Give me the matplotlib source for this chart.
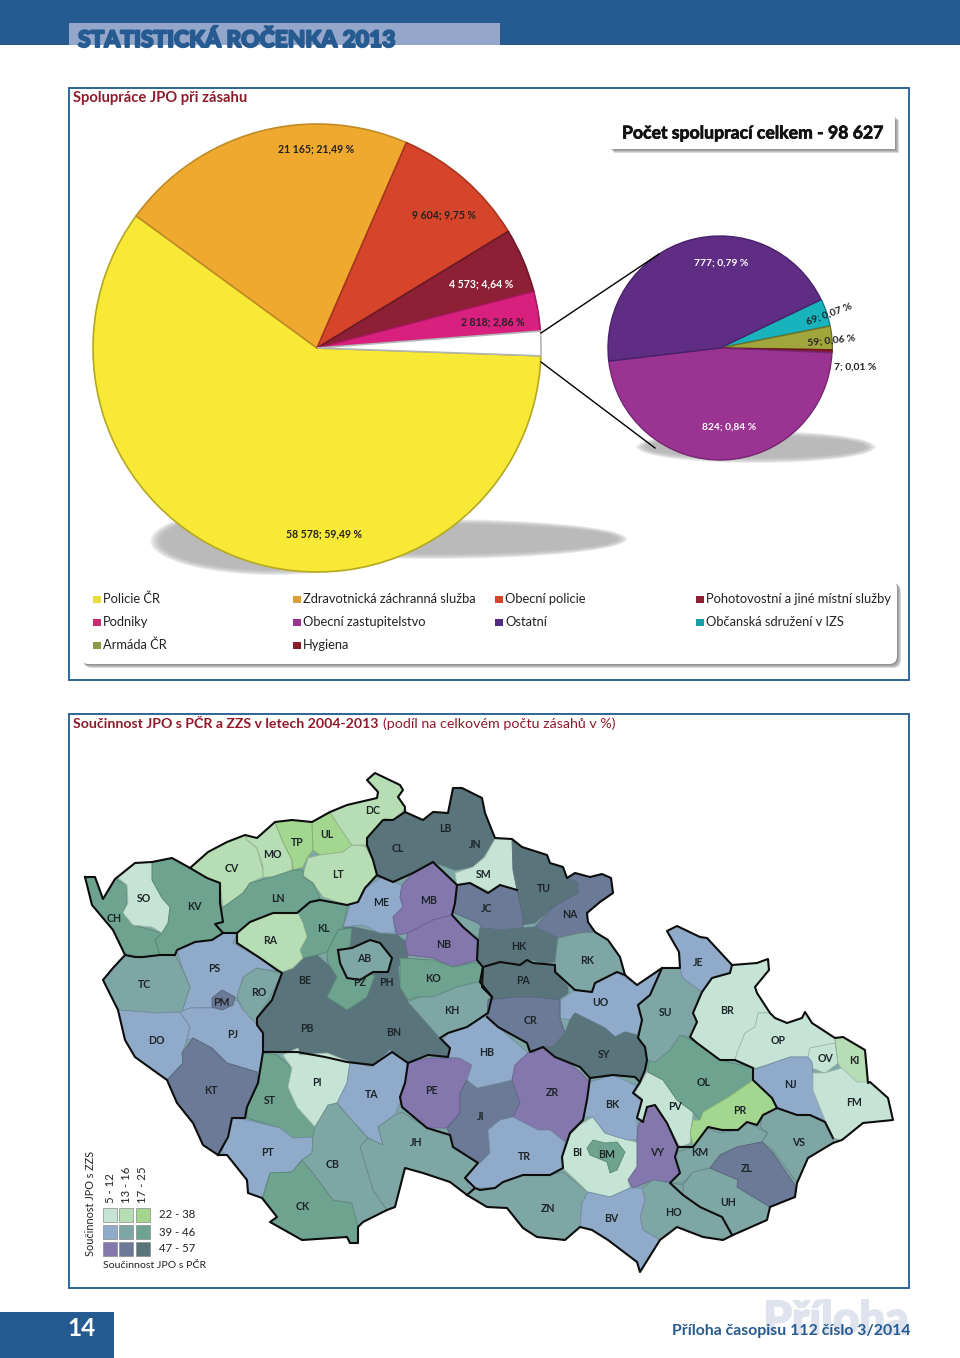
import matplotlib
matplotlib.use("Agg")
import matplotlib.pyplot as plt
import matplotlib.patheffects as pe
from matplotlib.colors import to_rgb
from matplotlib.patches import Ellipse, FancyBboxPatch, Polygon, Rectangle

plt.rcParams["font.family"] = ["Lato", "DejaVu Sans"]

BLUE = "#265b91"
RED_TITLE = "#8f1a2a"
TEXT = "#222222"

# main pie, share values
main_values = [58578, 21165, 9604, 4573, 2818, 1736]
main_colors = ["#f7e935", "#efa92f", "#d6452a", "#8e2035", "#d9207f", "#ffffff"]
main_edges = ["#b5a820", "#c08a25", "#a83520", "#6b1828", "#a8185f", "#b5b5b5"]
main_labels = ["58 578; 59,49 %", "21 165; 21,49 %", "9 604; 9,75 %", "4 573; 4,64 %", "2 818; 2,86 %"]
main_label_xy = [(324, 534), (316, 149), (444, 215), (481, 284), (493, 322)]
main_label_colors = [TEXT, TEXT, TEXT, "white", TEXT]

# detail pie, clockwise from the first split-off slice
detail_values = [69, 59, 7, 824, 777]
detail_colors = ["#18b3bd", "#a0a53c", "#8a1f2c", "#9a3391", "#5f2d84"]
detail_edges = ["#0f7f88", "#6e7228", "#6b1520", "#742670", "#48206a"]
detail_explode = [0.27, 0.33, 0.2, 0, 0]
detail_labels = ["69; 0,07 %", "59; 0,06 %", "7; 0,01 %", "824; 0,84 %", "777; 0,79 %"]
detail_label_xy = [(829, 314), (831, 341), (855, 367), (729, 427), (721, 263)]
detail_label_rot = [20, 6, 0, 0, 0]
detail_label_colors = [TEXT, TEXT, TEXT, "white", "white"]

legend_names = [
    "Policie ČR", "Zdravotnická záchranná služba", "Obecní policie", "Pohotovostní a jiné místní služby",
    "Podniky", "Obecní zastupitelstvo", "Ostatní", "Občanská sdružení v IZS",
    "Armáda ČR", "Hygiena",
]
legend_colors = [
    "#e8dc3a", "#dca032", "#d6452a", "#8e2035",
    "#c92a70", "#9a3391", "#4f2a80", "#18a0aa",
    "#8a9a45", "#8a1f2c",
]

# bivariate classes of the map, rows = JPO s PČR, columns = JPO s ZZS
class_rows = ["22 - 38", "39 - 46", "47 - 57"]
class_cols = ["5 - 12", "13 - 16", "17 - 25"]
class_colors = [
    ["#c6e4d6", "#b6ddb4", "#a3d68e"],
    ["#8fabc9", "#7ea6a4", "#6ea48f"],
    ["#8377ad", "#6b7a96", "#5a747b"],
]

# district -> (row, column) class
district_class = {
    "SM": (0, 0), "SO": (0, 0), "PI": (0, 0), "PV": (0, 0), "BI": (0, 0), "BR": (0, 0), "OP": (0, 0), "OV": (0, 0), "FM": (0, 0),
    "CV": (0, 1), "MO": (0, 1), "DC": (0, 1), "LT": (0, 1), "RA": (0, 1), "KI": (0, 1),
    "TP": (0, 2), "UL": (0, 2), "PR": (0, 2),
    "PS": (1, 0), "PJ": (1, 0), "DO": (1, 0), "ME": (1, 0), "HB": (1, 0), "TA": (1, 0), "PT": (1, 0), "UO": (1, 0), "JE": (1, 0),
    "BK": (1, 0), "TR": (1, 0), "BV": (1, 0), "NJ": (1, 0),
    "TC": (1, 1), "RO": (1, 1), "AB": (1, 1), "KH": (1, 1), "RK": (1, 1), "SU": (1, 1), "JH": (1, 1), "CB": (1, 1), "ZN": (1, 1),
    "HO": (1, 1), "UH": (1, 1), "KM": (1, 1), "VS": (1, 1),
    "CH": (1, 2), "KV": (1, 2), "LN": (1, 2), "KL": (1, 2), "KO": (1, 2), "BM": (1, 2), "OL": (1, 2), "CK": (1, 2), "ST": (1, 2), "PZ": (1, 2),
    "MB": (2, 0), "NB": (2, 0), "PE": (2, 0), "ZR": (2, 0), "VY": (2, 0),
    "PM": (2, 1), "KT": (2, 1), "JC": (2, 1), "NA": (2, 1), "CR": (2, 1), "JI": (2, 1), "ZL": (2, 1),
    "CL": (2, 2), "LB": (2, 2), "JN": (2, 2), "TU": (2, 2), "HK": (2, 2), "PA": (2, 2), "SY": (2, 2), "BE": (2, 2), "PB": (2, 2), "BN": (2, 2), "PH": (2, 2),
}

# outlines traced from the page, in page pixels; later ones lie on top
district_shape = {
    "PH": [(345, 925), (380, 933), (397, 935), (408, 943), (408, 957), (398, 967), (400, 987), (408, 1002), (380, 1012), (350, 1012), (327, 960)],
    "BE": [(282, 972), (293, 968), (303, 958), (317, 955), (328, 965), (337, 977), (330, 1000), (300, 1010), (272, 1000)],
    "PB": [(272, 1000), (325, 995), (347, 1005), (372, 1005), (372, 1062), (347, 1062), (325, 1057), (297, 1052), (263, 1052), (263, 1033), (257, 1025), (257, 1018)],
    "BN": [(347, 1005), (380, 985), (400, 987), (408, 1002), (440, 1038), (450, 1048), (448, 1057), (428, 1055), (408, 1063), (392, 1052), (373, 1065), (347, 1062)],
    "PZ": [(327, 952), (338, 930), (352, 928), (350, 945), (345, 975), (375, 975), (367, 997), (347, 1010), (327, 997), (337, 977), (328, 963)],
    "AB": [(338, 950), (352, 948), (370, 940), (380, 943), (392, 958), (388, 972), (373, 972), (360, 980), (347, 978), (340, 963)],
    "CH": [(85, 877), (95, 877), (103, 899), (115, 879), (127, 885), (127, 903), (123, 913), (133, 925), (162, 933), (155, 940), (160, 955), (143, 957), (135, 956), (125, 953), (113, 930), (92, 905)],
    "SO": [(118, 878), (135, 863), (152, 862), (152, 880), (162, 898), (170, 907), (168, 923), (162, 933), (152, 927), (133, 925), (123, 913), (128, 903), (127, 885)],
    "KV": [(152, 863), (172, 858), (190, 868), (207, 878), (220, 883), (220, 903), (223, 922), (215, 924), (223, 933), (212, 940), (195, 942), (177, 950), (175, 955), (160, 955), (155, 940), (162, 933), (168, 923), (170, 907), (162, 898), (152, 880)],
    "CV": [(190, 868), (208, 852), (227, 842), (245, 835), (247, 840), (257, 848), (263, 870), (263, 877), (250, 883), (243, 893), (223, 908), (220, 883), (207, 878)],
    "MO": [(245, 835), (257, 838), (275, 822), (282, 840), (292, 860), (292, 878), (272, 877), (263, 877), (263, 867), (257, 848), (247, 840)],
    "TP": [(275, 822), (292, 820), (312, 822), (313, 850), (307, 858), (303, 867), (293, 870), (292, 860), (282, 840)],
    "UL": [(312, 822), (330, 812), (338, 825), (352, 845), (343, 852), (320, 855), (313, 850)],
    "DC": [(330, 812), (347, 805), (377, 798), (378, 792), (367, 780), (375, 773), (400, 785), (403, 790), (398, 797), (405, 807), (402, 812), (393, 820), (385, 818), (377, 830), (367, 845), (352, 845), (338, 825)],
    "LT": [(352, 845), (365, 846), (373, 860), (377, 875), (365, 888), (358, 902), (347, 905), (323, 897), (313, 883), (303, 875), (308, 858), (320, 855), (343, 852)],
    "LN": [(293, 870), (303, 870), (303, 877), (313, 883), (320, 898), (310, 902), (297, 913), (273, 913), (250, 922), (237, 933), (223, 933), (215, 924), (223, 922), (222, 908), (243, 893), (250, 883), (272, 877)],
    "CL": [(367, 845), (367, 838), (383, 820), (393, 820), (405, 812), (423, 820), (433, 812), (433, 862), (413, 873), (393, 882), (377, 877), (375, 863)],
    "LB": [(433, 812), (448, 813), (453, 788), (462, 788), (482, 798), (485, 813), (465, 840), (455, 870), (433, 862)],
    "JN": [(485, 813), (495, 838), (483, 857), (473, 867), (455, 870), (465, 840)],
    "SM": [(455, 873), (473, 867), (485, 857), (495, 839), (512, 839), (513, 870), (517, 890), (500, 885), (492, 893), (480, 887), (470, 883), (457, 885)],
    "ME": [(363, 890), (380, 878), (402, 885), (400, 897), (403, 907), (393, 917), (395, 933), (380, 933), (363, 925), (343, 927), (350, 905), (358, 902)],
    "MB": [(402, 885), (413, 873), (433, 863), (457, 885), (455, 903), (452, 915), (433, 920), (408, 933), (397, 935), (393, 917), (403, 907), (400, 897)],
    "NB": [(408, 933), (433, 920), (452, 915), (463, 927), (478, 940), (477, 960), (453, 967), (433, 958), (408, 955), (405, 943)],
    "KL": [(298, 913), (310, 903), (320, 900), (348, 905), (343, 927), (338, 930), (327, 952), (317, 955), (303, 958), (300, 950), (307, 937), (303, 923)],
    "RA": [(237, 933), (250, 922), (272, 913), (298, 913), (303, 923), (307, 937), (300, 950), (303, 958), (293, 968), (282, 972), (275, 967), (260, 958), (237, 943)],
    "KO": [(400, 958), (433, 960), (453, 967), (477, 962), (483, 967), (480, 982), (457, 987), (433, 997), (417, 997), (408, 1000), (400, 987)],
    "KH": [(408, 1002), (420, 997), (433, 997), (457, 987), (478, 982), (492, 997), (488, 1013), (467, 1027), (448, 1033), (440, 1038)],
    "PS": [(177, 950), (195, 942), (212, 940), (223, 933), (237, 933), (233, 943), (260, 958), (277, 970), (257, 970), (245, 980), (238, 997), (217, 1007), (190, 1008), (180, 1012), (190, 987), (183, 970)],
    "RO": [(243, 977), (257, 968), (282, 973), (270, 997), (257, 1018), (257, 1025), (243, 1010), (237, 997)],
    "TC": [(113, 968), (125, 955), (140, 958), (160, 955), (175, 955), (183, 970), (190, 987), (182, 1012), (157, 1013), (118, 1010), (103, 980)],
    "DO": [(118, 1010), (157, 1013), (180, 1012), (190, 1027), (187, 1040), (182, 1053), (183, 1063), (167, 1080), (153, 1070), (135, 1057), (125, 1040)],
    "PJ": [(180, 1012), (190, 1008), (217, 1008), (237, 1000), (243, 1010), (257, 1025), (263, 1033), (263, 1052), (262, 1070), (257, 1072), (227, 1063), (212, 1048), (193, 1038), (187, 1040), (190, 1027)],
    "PM": [(212, 998), (222, 990), (235, 997), (233, 1005), (222, 1010), (212, 1007)],
    "KT": [(167, 1080), (183, 1063), (182, 1053), (193, 1038), (212, 1048), (227, 1063), (257, 1072), (258, 1083), (247, 1107), (245, 1118), (232, 1118), (228, 1137), (218, 1155), (203, 1145), (193, 1123), (177, 1103)],
    "ST": [(263, 1053), (277, 1055), (292, 1068), (288, 1087), (297, 1107), (315, 1127), (313, 1137), (293, 1138), (280, 1128), (247, 1118), (247, 1107), (258, 1083)],
    "PI": [(283, 1055), (298, 1048), (300, 1055), (327, 1053), (350, 1062), (347, 1083), (337, 1103), (327, 1112), (315, 1127), (297, 1107), (288, 1087), (292, 1068)],
    "TA": [(350, 1062), (372, 1067), (390, 1050), (407, 1063), (405, 1083), (400, 1103), (395, 1115), (378, 1127), (383, 1145), (368, 1138), (347, 1115), (337, 1103), (347, 1083)],
    "PT": [(232, 1118), (247, 1120), (280, 1128), (293, 1138), (313, 1137), (312, 1153), (302, 1160), (292, 1172), (270, 1173), (262, 1198), (248, 1193), (247, 1180), (227, 1155), (222, 1152)],
    "CK": [(302, 1160), (313, 1173), (333, 1200), (352, 1203), (358, 1227), (358, 1243), (350, 1243), (347, 1237), (302, 1240), (270, 1222), (277, 1217), (263, 1198), (270, 1173), (292, 1172)],
    "CB": [(328, 1105), (337, 1103), (347, 1115), (368, 1138), (360, 1147), (365, 1163), (373, 1190), (387, 1210), (363, 1222), (358, 1227), (352, 1203), (333, 1200), (313, 1173), (302, 1160), (312, 1153), (313, 1137), (315, 1127)],
    "JH": [(360, 1147), (368, 1138), (383, 1145), (378, 1127), (395, 1115), (402, 1112), (427, 1128), (450, 1135), (453, 1147), (478, 1163), (465, 1178), (475, 1188), (467, 1195), (450, 1182), (423, 1173), (405, 1168), (395, 1207), (387, 1210), (373, 1190), (365, 1163)],
    "PE": [(408, 1063), (428, 1058), (460, 1058), (472, 1065), (467, 1080), (460, 1093), (460, 1113), (447, 1128), (427, 1128), (402, 1107), (400, 1097), (405, 1083)],
    "JI": [(467, 1080), (477, 1088), (500, 1083), (512, 1080), (520, 1103), (513, 1117), (500, 1120), (488, 1130), (490, 1153), (480, 1163), (453, 1147), (450, 1135), (447, 1128), (460, 1113), (460, 1093)],
    "HB": [(448, 1033), (467, 1027), (488, 1013), (498, 1027), (527, 1052), (528, 1055), (513, 1077), (512, 1080), (500, 1083), (477, 1088), (467, 1080), (472, 1065), (460, 1058), (448, 1057), (450, 1048), (443, 1040)],
    "ZR": [(512, 1080), (515, 1065), (528, 1053), (543, 1048), (555, 1053), (580, 1072), (590, 1082), (587, 1100), (583, 1120), (570, 1133), (565, 1142), (550, 1130), (538, 1130), (513, 1117), (520, 1103)],
    "TR": [(480, 1163), (490, 1153), (488, 1130), (500, 1120), (513, 1117), (538, 1130), (550, 1130), (565, 1142), (562, 1157), (563, 1168), (550, 1175), (523, 1175), (503, 1182), (495, 1188), (480, 1190), (470, 1188), (465, 1178), (478, 1163)],
    "ZN": [(467, 1195), (475, 1188), (495, 1188), (503, 1182), (523, 1175), (550, 1175), (563, 1172), (588, 1192), (582, 1203), (580, 1227), (565, 1240), (537, 1237), (523, 1228), (507, 1208), (487, 1207)],
    "BI": [(563, 1168), (562, 1157), (568, 1137), (580, 1125), (593, 1117), (605, 1133), (623, 1138), (638, 1143), (637, 1167), (628, 1180), (630, 1188), (610, 1197), (588, 1192)],
    "BM": [(587, 1148), (593, 1140), (605, 1143), (617, 1142), (625, 1152), (617, 1170), (610, 1173), (607, 1162), (590, 1155)],
    "BK": [(590, 1082), (613, 1075), (635, 1085), (642, 1098), (637, 1118), (637, 1140), (628, 1140), (617, 1137), (605, 1133), (593, 1117), (583, 1117), (587, 1100)],
    "VY": [(638, 1127), (647, 1107), (655, 1105), (667, 1123), (678, 1147), (675, 1157), (680, 1173), (670, 1182), (653, 1180), (633, 1188), (628, 1180), (637, 1167), (637, 1140)],
    "PV": [(635, 1093), (647, 1072), (663, 1080), (677, 1100), (693, 1112), (690, 1143), (680, 1147), (667, 1123), (655, 1105), (647, 1107), (645, 1120), (637, 1118), (642, 1098)],
    "OL": [(648, 1072), (648, 1063), (680, 1035), (697, 1043), (720, 1060), (753, 1068), (753, 1080), (727, 1100), (703, 1112), (700, 1120), (693, 1112), (677, 1100), (663, 1080)],
    "PR": [(700, 1120), (703, 1112), (727, 1098), (753, 1080), (772, 1098), (777, 1108), (763, 1115), (757, 1125), (747, 1122), (738, 1130), (722, 1130), (708, 1127), (700, 1140), (693, 1145), (690, 1133), (693, 1120)],
    "SU": [(638, 1005), (650, 995), (662, 968), (680, 968), (683, 978), (702, 992), (693, 1013), (697, 1022), (690, 1037), (680, 1035), (670, 1050), (655, 1062), (647, 1060), (645, 1047), (638, 1038), (642, 1020)],
    "JE": [(667, 931), (677, 926), (700, 937), (707, 938), (732, 965), (730, 973), (712, 978), (702, 992), (683, 978), (680, 968), (679, 952)],
    "BR": [(732, 965), (757, 963), (768, 959), (769, 970), (755, 987), (757, 993), (770, 1013), (758, 1013), (755, 1027), (745, 1033), (737, 1053), (735, 1060), (720, 1060), (697, 1043), (690, 1035), (697, 1022), (693, 1013), (702, 992), (712, 978), (730, 973)],
    "OP": [(770, 1013), (775, 1018), (787, 1023), (802, 1018), (805, 1012), (812, 1023), (835, 1038), (835, 1043), (810, 1048), (808, 1057), (790, 1057), (767, 1065), (755, 1068), (735, 1060), (737, 1053), (745, 1033), (755, 1027), (758, 1013)],
    "OV": [(810, 1048), (835, 1043), (838, 1063), (825, 1073), (812, 1068), (808, 1057)],
    "KI": [(835, 1038), (843, 1037), (865, 1050), (868, 1083), (857, 1082), (842, 1070), (838, 1063)],
    "NJ": [(753, 1070), (767, 1065), (790, 1057), (808, 1057), (812, 1062), (813, 1073), (813, 1090), (825, 1120), (810, 1115), (797, 1115), (777, 1108), (772, 1098), (753, 1080)],
    "FM": [(813, 1073), (825, 1073), (842, 1068), (857, 1082), (870, 1082), (888, 1098), (893, 1120), (863, 1123), (842, 1140), (833, 1138), (825, 1120), (813, 1090)],
    "VS": [(763, 1115), (777, 1108), (797, 1115), (810, 1115), (825, 1122), (833, 1138), (833, 1143), (808, 1158), (797, 1183), (773, 1150), (762, 1142), (768, 1133), (760, 1127)],
    "KM": [(678, 1152), (693, 1147), (707, 1128), (720, 1133), (738, 1130), (747, 1122), (757, 1127), (767, 1133), (762, 1142), (737, 1147), (720, 1155), (710, 1168), (693, 1172), (683, 1183), (670, 1183), (680, 1173), (675, 1157)],
    "UH": [(683, 1185), (693, 1172), (710, 1168), (738, 1180), (737, 1187), (770, 1207), (767, 1220), (733, 1235), (723, 1217), (700, 1207), (683, 1195)],
    "ZL": [(710, 1168), (720, 1155), (737, 1147), (762, 1142), (773, 1153), (795, 1185), (795, 1197), (770, 1207), (737, 1187), (738, 1180)],
    "HO": [(642, 1188), (653, 1180), (670, 1183), (683, 1185), (683, 1195), (700, 1207), (722, 1217), (732, 1235), (723, 1240), (703, 1237), (677, 1227), (660, 1240), (643, 1230), (640, 1217), (645, 1200)],
    "BV": [(588, 1192), (610, 1197), (630, 1188), (642, 1188), (645, 1200), (640, 1217), (643, 1230), (660, 1240), (640, 1272), (637, 1262), (608, 1240), (592, 1230), (580, 1227), (582, 1203)],
    "TU": [(512, 839), (522, 847), (547, 855), (550, 863), (563, 867), (567, 877), (577, 882), (578, 893), (553, 907), (535, 923), (520, 925), (523, 917), (517, 890), (513, 870)],
    "NA": [(567, 878), (575, 873), (590, 877), (602, 874), (611, 878), (613, 893), (600, 902), (587, 913), (588, 922), (595, 932), (580, 933), (558, 938), (535, 927), (553, 907), (578, 893), (578, 883)],
    "JC": [(457, 885), (470, 883), (488, 893), (500, 885), (517, 890), (523, 917), (523, 928), (500, 930), (482, 928), (478, 923), (452, 912), (455, 903)],
    "HK": [(478, 940), (480, 928), (500, 930), (523, 928), (535, 927), (558, 938), (555, 962), (543, 963), (533, 960), (527, 960), (520, 965), (500, 962), (487, 967), (477, 960)],
    "RK": [(558, 938), (580, 933), (595, 932), (608, 940), (620, 957), (625, 975), (617, 972), (595, 983), (592, 992), (575, 990), (555, 970), (555, 962)],
    "UO": [(560, 1000), (575, 990), (592, 992), (595, 983), (617, 972), (637, 985), (662, 970), (650, 995), (638, 1005), (642, 1020), (637, 1035), (625, 1032), (615, 1037), (605, 1028), (575, 1013), (570, 1020), (560, 1018)],
    "PA": [(482, 968), (500, 962), (520, 965), (527, 960), (533, 963), (543, 963), (555, 965), (555, 972), (568, 987), (568, 993), (558, 1000), (537, 997), (517, 997), (500, 1000), (488, 1000), (492, 997), (482, 987)],
    "CR": [(488, 1000), (517, 997), (537, 997), (560, 1000), (560, 1018), (565, 1033), (553, 1047), (543, 1047), (533, 1053), (527, 1043), (498, 1027), (487, 1017)],
    "SY": [(553, 1047), (565, 1033), (570, 1020), (575, 1013), (605, 1028), (615, 1037), (625, 1032), (637, 1035), (645, 1048), (647, 1063), (645, 1070), (640, 1082), (635, 1077), (613, 1075), (592, 1078), (580, 1067), (557, 1057), (545, 1047)],
}

# label anchor of each district code
district_label = {
    "CH": (114, 919), "SO": (144, 898), "KV": (194, 907), "CV": (232, 869), "MO": (272, 854), "TP": (297, 842), "UL": (327, 835), "DC": (373, 811),
    "LB": (445, 828), "JN": (475, 845), "CL": (398, 848), "LT": (338, 875), "SM": (484, 874), "TU": (544, 888), "LN": (278, 898), "ME": (381, 902),
    "MB": (429, 901), "JC": (487, 909), "NA": (570, 915), "KL": (323, 928), "RA": (270, 941), "NB": (444, 944), "HK": (519, 947), "AB": (364, 959),
    "RK": (587, 960), "JE": (698, 962), "PS": (214, 968), "TC": (144, 984), "RO": (259, 992), "BE": (305, 981), "PZ": (360, 983), "PH": (386, 983),
    "KO": (433, 978), "PA": (523, 981), "PM": (221, 1002), "UO": (600, 1003), "SU": (666, 1013), "BR": (727, 1010), "KH": (452, 1011), "CR": (530, 1020),
    "PB": (307, 1028), "BN": (394, 1033), "PJ": (233, 1034), "DO": (156, 1041), "OP": (778, 1041), "HB": (487, 1052), "SY": (604, 1054), "OV": (825, 1058),
    "KI": (854, 1060), "OL": (704, 1082), "NJ": (790, 1085), "PI": (317, 1083), "KT": (211, 1091), "ST": (270, 1100), "TA": (372, 1094), "PE": (431, 1091),
    "ZR": (552, 1093), "BK": (612, 1105), "PV": (675, 1107), "FM": (854, 1103), "PR": (740, 1111), "JI": (481, 1117), "ZL": (747, 1168), "JH": (416, 1143),
    "VS": (799, 1142), "PT": (268, 1153), "BI": (577, 1152), "BM": (607, 1154), "VY": (657, 1152), "KM": (700, 1153), "TR": (524, 1156), "CB": (333, 1164),
    "UH": (728, 1202), "CK": (303, 1207), "ZN": (548, 1208), "HO": (673, 1213), "BV": (611, 1219),
}

# national outline and region borders
border_outer = [
    (85, 877), (95, 877), (103, 899), (115, 879), (135, 863), (152, 862), (172, 858), (190, 868), (208, 852), (227, 842), (245, 835), (257, 838), (275, 822), (292, 820),
    (312, 822), (330, 812), (347, 805), (377, 798), (378, 792), (367, 780), (375, 773), (400, 785), (403, 790), (398, 797), (405, 807), (405, 812), (423, 820), (433, 812),
    (448, 813), (453, 788), (462, 788), (482, 798), (485, 813), (495, 838), (512, 839), (522, 847), (547, 855), (550, 863), (563, 867), (567, 878), (575, 873), (590, 877),
    (602, 874), (611, 878), (613, 893), (600, 902), (587, 913), (588, 922), (595, 932), (608, 940), (620, 957), (625, 975), (637, 985), (662, 968), (680, 968), (679, 952),
    (667, 931), (677, 926), (700, 937), (707, 938), (732, 965), (757, 963), (768, 959), (769, 970), (755, 987), (757, 993), (770, 1013), (775, 1018), (787, 1023), (802, 1018),
    (805, 1012), (812, 1023), (835, 1038), (843, 1037), (865, 1050), (868, 1083), (870, 1082), (888, 1098), (893, 1120), (863, 1123), (842, 1140), (833, 1143), (808, 1158),
    (797, 1183), (795, 1197), (770, 1207), (767, 1220), (733, 1235), (723, 1240), (703, 1237), (677, 1227), (660, 1240), (640, 1272), (637, 1262), (608, 1240), (592, 1230),
    (580, 1227), (565, 1240), (537, 1237), (523, 1228), (507, 1208), (487, 1207), (467, 1195), (450, 1182), (423, 1173), (405, 1168), (395, 1207), (387, 1210), (363, 1222),
    (358, 1227), (358, 1243), (350, 1243), (347, 1237), (302, 1240), (270, 1222), (277, 1217), (262, 1198), (248, 1193), (247, 1180), (227, 1155), (218, 1155), (203, 1145),
    (193, 1123), (177, 1103), (167, 1080), (153, 1070), (135, 1057), (125, 1040), (118, 1010), (103, 980), (113, 968), (125, 955), (113, 930), (92, 905), (85, 877),
]
region_borders = [
    [(125, 955), (135, 957), (143, 957), (160, 955), (175, 955), (177, 950), (195, 942), (212, 940), (223, 933)],
    [(190, 868), (207, 878), (220, 883), (220, 903), (223, 922), (215, 924), (223, 933), (237, 933), (250, 922), (273, 913), (297, 913), (310, 902), (320, 900), (347, 905), (358, 902), (365, 888), (377, 875), (373, 860), (367, 845), (367, 838), (383, 820), (393, 820), (405, 812)],
    [(377, 875), (393, 882), (413, 873), (433, 862), (457, 885), (470, 883), (488, 893), (500, 885), (517, 890)],
    [(457, 885), (455, 903), (452, 915), (463, 927), (478, 940), (477, 960), (483, 967), (480, 982), (492, 997), (488, 1013), (467, 1027), (448, 1033), (440, 1038), (450, 1048), (448, 1057), (428, 1055), (408, 1063), (392, 1052), (373, 1065), (347, 1062), (325, 1057), (297, 1052), (263, 1052), (263, 1033), (257, 1025), (257, 1018), (272, 1000), (282, 973), (277, 970), (260, 958), (237, 943), (237, 933)],
    [(338, 950), (352, 948), (370, 940), (380, 943), (392, 958), (388, 972), (373, 972), (360, 980), (347, 978), (340, 963), (338, 950)],
    [(263, 1052), (258, 1083), (247, 1107), (245, 1118), (232, 1118), (228, 1137), (218, 1155)],
    [(408, 1063), (405, 1083), (400, 1097), (402, 1107), (427, 1128), (450, 1135), (453, 1147), (478, 1163), (465, 1178), (475, 1188), (467, 1195)],
    [(487, 1017), (498, 1027), (527, 1043), (530, 1052), (543, 1047), (555, 1057), (580, 1067), (590, 1078), (587, 1100), (583, 1120), (570, 1133), (562, 1157), (563, 1168), (550, 1175), (523, 1175), (503, 1182), (495, 1188), (480, 1190), (475, 1188)],
    [(590, 1078), (613, 1075), (635, 1077), (640, 1082), (633, 1093), (642, 1100), (637, 1118), (643, 1122), (647, 1107), (655, 1105), (667, 1123), (678, 1147), (675, 1157), (680, 1173), (670, 1183), (683, 1195), (700, 1207), (722, 1217), (732, 1235)],
    [(678, 1147), (693, 1147), (708, 1127), (722, 1130), (738, 1130), (747, 1122), (757, 1125), (763, 1115), (777, 1108), (797, 1115), (810, 1115), (825, 1122), (833, 1138)],
    [(777, 1108), (772, 1098), (753, 1080), (753, 1068), (735, 1060), (720, 1060), (697, 1043), (690, 1037), (697, 1022), (693, 1013), (702, 992), (712, 978), (730, 973), (732, 965)],
    [(662, 968), (650, 995), (638, 1005), (642, 1020), (638, 1038), (645, 1047), (647, 1060), (645, 1070), (640, 1082)],
    [(483, 967), (500, 962), (520, 965), (527, 960), (533, 963), (555, 965), (555, 972), (575, 990), (592, 992), (595, 983), (617, 972), (625, 975)],
    [(483, 967), (482, 987), (492, 997)],
]


def soft_shadow(ax, x, y, w, h, color="#a8a8a8", steps=6):
    for k in range(steps):
        grow = (steps - k) * 2.0
        ax.add_patch(Ellipse((x, y), w + grow * 2, h + grow, color=color, alpha=0.22, lw=0, zorder=1))


def soft_box(ax, x0, y0, x1, y1, round_px=0):
    # grey layers to the lower right, then the white card
    for k in range(4, 0, -1):
        ax.add_patch(FancyBboxPatch((x0 + k, y0 + k), x1 - x0, y1 - y0, boxstyle=f"round,pad=0,rounding_size={round_px}",
                                    fc="#555555", ec="none", alpha=0.22, zorder=2))
    ax.add_patch(FancyBboxPatch((x0, y0), x1 - x0, y1 - y0, boxstyle=f"round,pad=0,rounding_size={round_px}",
                                fc="white", ec="none", zorder=3))


def pie_axes(fig, cx, cy, half):
    sub = fig.add_axes([(cx - half) / 960, 1 - (cy + half) / 1358, 2 * half / 960, 2 * half / 1358], zorder=1)
    sub.patch.set_alpha(0)
    return sub


def heavy(width=0.5):
    return [pe.withStroke(linewidth=width, foreground="black", alpha=0.0), pe.Stroke(linewidth=width), pe.Normal()]


fig = plt.figure(figsize=(9.6, 13.58), dpi=100)
ax = fig.add_axes([0, 0, 1, 1], zorder=0)
ax.set_xlim(0, 960)
ax.set_ylim(1358, 0)
ax.axis("off")
top = fig.add_axes([0, 0, 1, 1], zorder=2)
top.set_xlim(0, 960)
top.set_ylim(1358, 0)
top.axis("off")

# header and footer
ax.add_patch(Rectangle((0, 0), 960, 45, fc=BLUE, ec="none"))
head_box = Rectangle((69, 23), 431, 22, fc="#94a6ca", ec="none", zorder=2)
ax.add_patch(head_box)
head = ax.text(78, 47, "STATISTICKÁ ROČENKA 2013", color=BLUE, fontsize=16.4, fontweight="black", va="baseline", zorder=3,
               path_effects=[pe.withStroke(linewidth=1.4, foreground=BLUE)])
head.set_clip_path(head_box)
ax.add_patch(Rectangle((0, 1312), 114, 46, fc=BLUE, ec="none"))
ax.text(81, 1328, "14", color="white", fontsize=17.5, fontweight="bold", ha="center", va="center")
ax.text(909, 1334, "Příloha", color="#dfe3ee", fontsize=33, fontweight="black", ha="right", va="baseline",
        path_effects=[pe.withStroke(linewidth=1.2, foreground="#dfe3ee")])
ax.text(910, 1335, "Příloha časopisu 112 číslo 3/2014", color=BLUE, fontsize=11.4, fontweight="bold", ha="right", va="baseline", zorder=3)

# the two framed panels
ax.add_patch(Rectangle((69, 88), 840, 592, fc="none", ec="#2f6496", lw=1.4))
ax.add_patch(Rectangle((69, 714), 840, 574, fc="none", ec="#2f6496", lw=1.4))
ax.text(73, 98, "Spolupráce JPO při zásahu", color=RED_TITLE, fontsize=10.6, fontweight="bold", va="center")
ax.text(73, 724, "Součinnost JPO s PČR a ZZS v letech 2004-2013", color=RED_TITLE, fontsize=10.15, fontweight="bold", va="center")
ax.text(383, 724, "(podíl na celkovém počtu zásahů v %)", color=RED_TITLE, fontsize=10.25, va="center")

# pie shadows
soft_shadow(ax, 275, 541, 225, 56)
soft_shadow(ax, 430, 539, 370, 28)
soft_shadow(ax, 756, 447, 215, 20)

main_ax = pie_axes(fig, 317, 348, 240)
wedges, _ = main_ax.pie(main_values, colors=main_colors, startangle=-2, counterclock=False, radius=224,
                        wedgeprops={"linewidth": 1.2})
for w, ec in zip(wedges, main_edges):
    w.set_edgecolor(ec)
main_ax.set_xlim(-240, 240)
main_ax.set_ylim(-240, 240)

detail_ax = pie_axes(fig, 720, 348, 150)
wedges, _ = detail_ax.pie(detail_values, colors=detail_colors, startangle=25.6, counterclock=False, radius=112,
                          explode=detail_explode, wedgeprops={"linewidth": 1.0})
for w, ec in zip(wedges, detail_edges):
    w.set_edgecolor(ec)
detail_ax.set_xlim(-150, 150)
detail_ax.set_ylim(-150, 150)

# connector lines between the pies
top.plot([541, 659], [333, 254], color="black", lw=1.0)
top.plot([541, 655], [362, 448], color="black", lw=1.0)

for s, (x, y), c in zip(main_labels, main_label_xy, main_label_colors):
    top.text(x, y, s, color=c, fontsize=7.6, fontweight="bold", ha="center", va="center")
for s, (x, y), r, c in zip(detail_labels, detail_label_xy, detail_label_rot, detail_label_colors):
    top.text(x, y, s, color=c, fontsize=7.4, fontweight="bold", rotation=r, ha="center", va="center")

# total box and legend card
soft_box(ax, 610, 116, 895, 149)
ax.text(753, 133, "Počet spoluprací celkem - 98 627", color="#111111", fontsize=12.7, fontweight="bold", ha="center", va="center", zorder=4,
        path_effects=[pe.withStroke(linewidth=0.5, foreground="#111111")])
soft_box(ax, 80, 580, 897, 664, round_px=8)
legend_x = [93, 293, 495, 696]
legend_y = [599, 622, 645]
for i, (name, col) in enumerate(zip(legend_names, legend_colors)):
    x = legend_x[i % 4]
    y = legend_y[i // 4]
    ax.add_patch(Rectangle((x, y - 3.5), 8, 7, fc=col, ec="none", zorder=4))
    ax.text(x + 10, y, name, color=TEXT, fontsize=9.25, va="center", zorder=4)

# districts, over a base fill that hides small gaps between traced outlines
ax.add_patch(Polygon(border_outer, closed=True, fc=class_colors[1][1], ec="none", zorder=2))
for code, shape in district_shape.items():
    r, c = district_class[code]
    face = class_colors[r][c]
    edge = face if (r, c) == (2, 2) else tuple(v * 0.82 for v in to_rgb(face))
    ax.add_patch(Polygon(shape, closed=True, fc=face, ec=edge, lw=0.6, zorder=2))
for code, (x, y) in district_label.items():
    ax.text(x, y, code, color="#1c2428", fontsize=7.6, fontweight="bold", ha="center", va="center", zorder=5)
for line in [border_outer] + region_borders:
    xs, ys = zip(*line)
    ax.plot(xs, ys, color="#0d0d0d", lw=1.5, solid_joinstyle="round", zorder=4)

# bivariate key
key_x = [103, 119, 136]
key_y = [1208, 1225, 1242]
for r, y in enumerate(key_y):
    for c, x in enumerate(key_x):
        ax.add_patch(Rectangle((x, y), 14, 14, fc=class_colors[r][c], ec="#8a8a8a", lw=0.5))
    ax.text(159, y + 7, class_rows[r], color=TEXT, fontsize=8.2, va="center")
for c, x in enumerate(key_x):
    ax.text(x + 7, 1203, class_cols[c], color=TEXT, fontsize=8.2, rotation=90, ha="center", va="bottom")
ax.text(91, 1256, "Součinnost JPO s ZZS", color=TEXT, fontsize=7.8, rotation=90, ha="center", va="bottom")
ax.text(103, 1266, "Součinnost JPO s PČR", color=TEXT, fontsize=7.55, va="center")

fig.savefig("out.png", dpi=100)
